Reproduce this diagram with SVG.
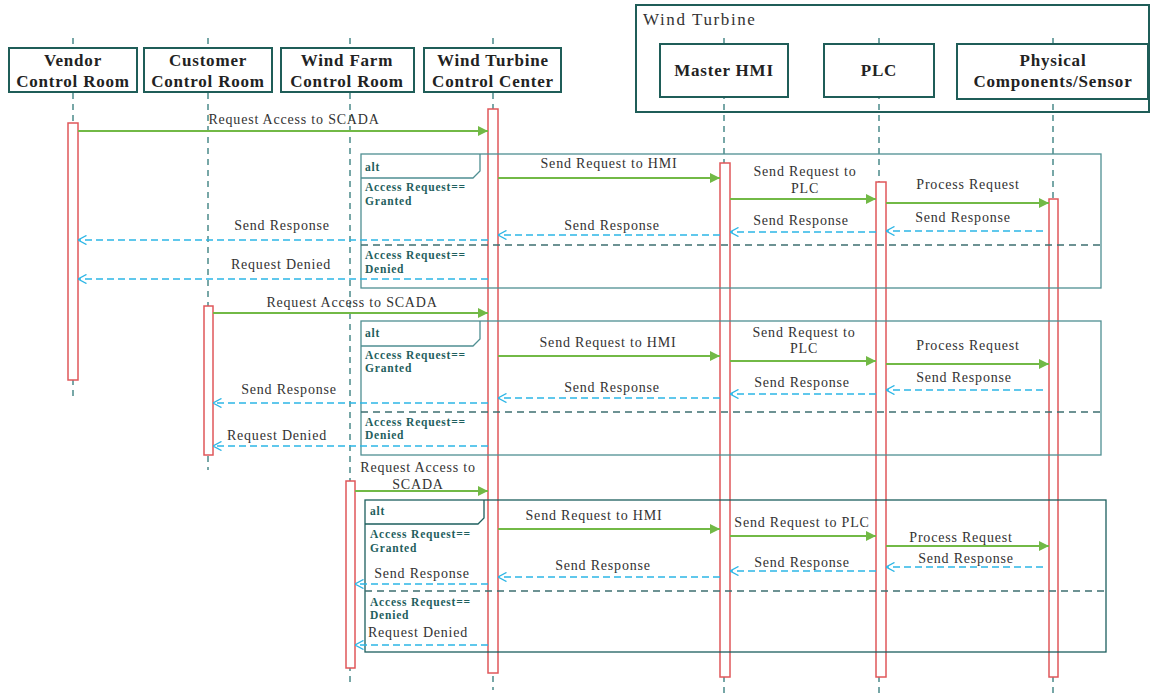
<svg xmlns="http://www.w3.org/2000/svg" width="1151" height="698" viewBox="0 0 1151 698" font-family="'Liberation Serif', serif">
<defs>
<style>
.hdr{fill:#fff;stroke:#1f5d58;stroke-width:2}
.ht{font-weight:bold;font-size:17px;letter-spacing:0.8px;fill:#222;text-anchor:middle}
.life{stroke:#4b8a8a;stroke-width:1.5;stroke-dasharray:6,5;fill:none}
.act{fill:#fff;stroke:#e0575a;stroke-width:1.5}
.alt{fill:none;stroke:#4f8f92;stroke-width:1.3}
.alt3{fill:none;stroke:#1d5f5e;stroke-width:1.3}
.div{stroke:#3e6f70;stroke-width:1.3;stroke-dasharray:7,5}
.at{font-weight:bold;font-size:11.5px;letter-spacing:0.8px;fill:#1f5f5e}
.msg{stroke:#72b946;stroke-width:1.8;fill:none;marker-end:url(#ag)}
.ret{stroke:#2db6e6;stroke-width:1.5;stroke-dasharray:7,4;fill:none;marker-end:url(#ab)}
.lb{font-size:14px;letter-spacing:0.8px;fill:#333;text-anchor:middle}
</style>
<marker id="ag" viewBox="0 0 10 10" refX="10" refY="5" markerWidth="12" markerHeight="10" markerUnits="userSpaceOnUse" orient="auto"><path d="M0,0 L10,5 L0,10 z" fill="#72b946"/></marker>
<marker id="ab" viewBox="0 0 10 10" refX="9.5" refY="5" markerWidth="10" markerHeight="10" markerUnits="userSpaceOnUse" orient="auto"><path d="M1,0.5 L9.5,5 L1,9.5" fill="none" stroke="#2db6e6" stroke-width="1.4"/></marker>
</defs>
<rect width="1151" height="698" fill="#fff"/>

<g id="wind-turbine-group">
<rect x="636" y="5" width="513" height="107" fill="none" stroke="#1f5d58" stroke-width="2"/>
<text x="643" y="25" font-size="17" letter-spacing="1.6" fill="#333">Wind Turbine</text>
</g>

<g id="lifelines">
<line class="life" x1="73" y1="38" x2="73" y2="398"/>
<line class="life" x1="208" y1="38" x2="208" y2="470"/>
<line class="life" x1="350" y1="38" x2="350" y2="686"/>
<line class="life" x1="493" y1="38" x2="493" y2="690"/>
<line class="life" x1="724" y1="38" x2="724" y2="696"/>
<line class="life" x1="879" y1="38" x2="879" y2="696"/>
<line class="life" x1="1053" y1="38" x2="1053" y2="696"/>
</g>

<g id="vendor">
<rect class="hdr" x="9" y="48" width="128" height="44"/>
<text class="ht" x="73" y="66">Vendor</text>
<text class="ht" x="73" y="87">Control Room</text>
</g>
<g id="customer">
<rect class="hdr" x="144" y="48" width="128" height="44"/>
<text class="ht" x="208" y="66">Customer</text>
<text class="ht" x="208" y="87">Control Room</text>
</g>
<g id="windfarm">
<rect class="hdr" x="281" y="48" width="133" height="44"/>
<text class="ht" x="347" y="66">Wind Farm</text>
<text class="ht" x="347" y="87">Control Room</text>
</g>
<g id="wtcc">
<rect class="hdr" x="424" y="48" width="137" height="44"/>
<text class="ht" x="493" y="66">Wind Turbine</text>
<text class="ht" x="493" y="87">Control Center</text>
</g>
<g id="masterhmi">
<rect class="hdr" x="660" y="44" width="128" height="53"/>
<text class="ht" x="724" y="76">Master HMI</text>
</g>
<g id="plc">
<rect class="hdr" x="824" y="44" width="110" height="53"/>
<text class="ht" x="879" y="76">PLC</text>
</g>
<g id="physical">
<rect class="hdr" x="957" y="44" width="191" height="55"/>
<text class="ht" x="1053" y="66">Physical</text>
<text class="ht" x="1053" y="87">Components/Sensor</text>
</g>

<g id="activations">
<rect class="act" x="68" y="123" width="10" height="257"/>
<rect class="act" x="488" y="109" width="10" height="564"/>
<rect class="act" x="720" y="163" width="10" height="514"/>
<rect class="act" x="876" y="182" width="10" height="495"/>
<rect class="act" x="1049" y="199" width="9" height="478"/>
<rect class="act" x="204" y="306" width="9" height="149"/>
<rect class="act" x="346" y="481" width="9" height="187"/>
</g>

<g id="alt1">
<rect class="alt" x="361" y="154" width="740" height="134"/>
<path class="alt" d="M361,178 H473 L480,171 V154"/>
<line class="div" x1="361" y1="245" x2="1101" y2="245"/>
<text class="at" x="365" y="171">alt</text>
<text class="at" x="365" y="191">Access Request==</text>
<text class="at" x="365" y="205">Granted</text>
<text class="at" x="365" y="259">Access Request==</text>
<text class="at" x="365" y="273">Denied</text>
</g>
<g id="alt2">
<rect class="alt" x="361" y="321" width="740" height="134"/>
<path class="alt" d="M361,346 H473 L480,339 V321"/>
<line class="div" x1="361" y1="412" x2="1101" y2="412"/>
<text class="at" x="365" y="337">alt</text>
<text class="at" x="365" y="359">Access Request==</text>
<text class="at" x="365" y="372">Granted</text>
<text class="at" x="365" y="426">Access Request==</text>
<text class="at" x="365" y="439">Denied</text>
</g>
<g id="alt3">
<rect class="alt3" x="365" y="500" width="741" height="152"/>
<path class="alt3" d="M365,524 H478 L484,518 V500"/>
<line class="div" x1="365" y1="591" x2="1106" y2="591"/>
<text class="at" x="370" y="515">alt</text>
<text class="at" x="370" y="538">Access Request==</text>
<text class="at" x="370" y="552">Granted</text>
<text class="at" x="370" y="606">Access Request==</text>
<text class="at" x="370" y="619">Denied</text>
</g>

<g id="connectors">
<line class="msg" x1="78" y1="131" x2="488" y2="131"/>
<line class="msg" x1="498" y1="178" x2="720" y2="178"/>
<line class="msg" x1="730" y1="199" x2="876" y2="199"/>
<line class="msg" x1="886" y1="203" x2="1049" y2="203"/>
<line class="ret" x1="1043" y1="231" x2="886" y2="231"/>
<line class="ret" x1="876" y1="232" x2="730" y2="232"/>
<line class="ret" x1="720" y1="235" x2="498" y2="235"/>
<line class="ret" x1="488" y1="240" x2="78" y2="240"/>
<line class="ret" x1="488" y1="279" x2="78" y2="279"/>

<line class="msg" x1="213" y1="313" x2="488" y2="313"/>
<line class="msg" x1="498" y1="356" x2="720" y2="356"/>
<line class="msg" x1="730" y1="361" x2="876" y2="361"/>
<line class="msg" x1="886" y1="364" x2="1049" y2="364"/>
<line class="ret" x1="1043" y1="390" x2="886" y2="390"/>
<line class="ret" x1="876" y1="394" x2="730" y2="394"/>
<line class="ret" x1="720" y1="398" x2="498" y2="398"/>
<line class="ret" x1="488" y1="403" x2="213" y2="403"/>
<line class="ret" x1="488" y1="446" x2="213" y2="446"/>

<line class="msg" x1="355" y1="491" x2="488" y2="491"/>
<line class="msg" x1="498" y1="529" x2="720" y2="529"/>
<line class="msg" x1="730" y1="536" x2="876" y2="536"/>
<line class="msg" x1="886" y1="546" x2="1049" y2="546"/>
<line class="ret" x1="1043" y1="567" x2="886" y2="567"/>
<line class="ret" x1="876" y1="571" x2="730" y2="571"/>
<line class="ret" x1="720" y1="577" x2="498" y2="577"/>
<line class="ret" x1="488" y1="584" x2="355" y2="584"/>
<line class="ret" x1="488" y1="645" x2="355" y2="645"/>
</g>

<g id="labels">
<text class="lb" x="294" y="124">Request Access to SCADA</text>
<text class="lb" x="609" y="168">Send Request to HMI</text>
<text class="lb" x="805" y="176">Send Request to</text>
<text class="lb" x="805" y="193">PLC</text>
<text class="lb" x="968" y="189">Process Request</text>
<text class="lb" x="963" y="222">Send Response</text>
<text class="lb" x="801" y="225">Send Response</text>
<text class="lb" x="612" y="230">Send Response</text>
<text class="lb" x="282" y="230">Send Response</text>
<text class="lb" x="281" y="269">Request Denied</text>

<text class="lb" x="352" y="307">Request Access to SCADA</text>
<text class="lb" x="608" y="347">Send Request to HMI</text>
<text class="lb" x="804" y="337">Send Request to</text>
<text class="lb" x="804" y="353">PLC</text>
<text class="lb" x="968" y="350">Process Request</text>
<text class="lb" x="964" y="382">Send Response</text>
<text class="lb" x="802" y="387">Send Response</text>
<text class="lb" x="612" y="392">Send Response</text>
<text class="lb" x="289" y="394">Send Response</text>
<text class="lb" x="277" y="440">Request Denied</text>

<text class="lb" x="418" y="472">Request Access to</text>
<text class="lb" x="418" y="489">SCADA</text>
<text class="lb" x="594" y="520">Send Request to HMI</text>
<text class="lb" x="802" y="527">Send Request to PLC</text>
<text class="lb" x="961" y="542">Process Request</text>
<text class="lb" x="966" y="563">Send Response</text>
<text class="lb" x="802" y="567">Send Response</text>
<text class="lb" x="603" y="570">Send Response</text>
<text class="lb" x="422" y="578">Send Response</text>
<text class="lb" x="418" y="637">Request Denied</text>
</g>
</svg>
